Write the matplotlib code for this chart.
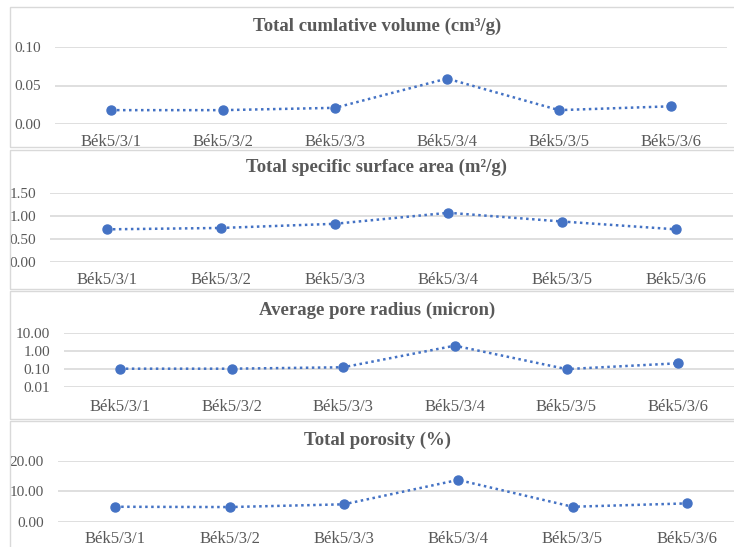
import matplotlib
matplotlib.use("Agg")
import matplotlib.pyplot as plt
from matplotlib.patches import Rectangle
from matplotlib.ticker import FixedLocator, FixedFormatter, NullLocator

categories = ["Bék5/3/1", "Bék5/3/2", "Bék5/3/3", "Bék5/3/4", "Bék5/3/5", "Bék5/3/6"]
volume = [0.018, 0.018, 0.021, 0.059, 0.018, 0.023]
surface = [0.71, 0.74, 0.83, 1.07, 0.88, 0.71]
radius = [0.10, 0.10, 0.12, 1.9, 0.095, 0.20]
porosity = [4.9, 4.8, 5.7, 13.7, 4.9, 6.0]

titles = ["Total cumlative volume (cm³/g)", "Total specific surface area (m²/g)",
          "Average pore radius (micron)", "Total porosity (%)"]
yticks_list = [[0.0, 0.05, 0.10], [0.0, 0.5, 1.0, 1.5], [0.01, 0.1, 1.0, 10.0], [0.0, 10.0, 20.0]]

W, H = 734, 547
fig = plt.figure(figsize=(W / 100, H / 100), dpi=100)
fig.patch.set_facecolor("white")

TXT = "#595959"
GRID = "#d9d9d9"
BLUE = "#4472C4"
SERIF = ["Liberation Serif", "DejaVu Serif"]

# panel borders (pixel coords: x0, ytop, x1, ybot)
panels = [(10, 7, 745, 147), (10, 149.5, 745, 289), (10, 291, 745, 419), (10, 421, 745, 560)]
for (x0, yt, x1, yb) in panels:
    fig.patches.append(Rectangle((x0 / W, 1 - yb / H), (x1 - x0) / W, (yb - yt) / H,
                                 transform=fig.transFigure, fill=False,
                                 edgecolor=GRID, lw=1.0))

# axes rectangles (x0, x1, ytop, ybot) in pixels
rects = [(55, 727, 47, 124), (50, 733, 193, 262), (64, 734, 332.7, 386.7), (58, 744, 460.7, 521.7)]
title_y = [26, 167, 310, 440]
xpads = [7, 7, 9, 7]
ylims = [(0, 0.10), (0, 1.5), (0.01, 10), (0, 20)]
data = [volume, surface, radius, porosity]

for i in range(4):
    x0, x1, yt, yb = rects[i]
    ax = fig.add_axes([x0 / W, 1 - yb / H, (x1 - x0) / W, (yb - yt) / H])
    ax.set_facecolor("none")
    xs = list(range(len(categories)))
    ax.plot(xs, data[i], linestyle=(0, (1, 1.4)), color=BLUE, lw=1.8,
            marker="o", markersize=6.5, markerfacecolor=BLUE, markeredgecolor=BLUE)
    ax.set_xlim(-0.5, len(categories) - 0.5)
    if i == 2:
        ax.set_yscale("log")
    ax.set_ylim(*ylims[i])
    ax.yaxis.set_major_locator(FixedLocator(yticks_list[i]))
    ax.yaxis.set_major_formatter(FixedFormatter([f"{v:.2f}" for v in yticks_list[i]]))
    ax.yaxis.set_minor_locator(NullLocator())
    ax.set_xticks(xs)
    ax.set_xticklabels(categories)
    for s in ax.spines.values():
        s.set_visible(False)
    ax.grid(axis="y", color=GRID, lw=1.2)
    ax.set_axisbelow(True)
    ax.tick_params(axis="both", length=0, colors=TXT)
    ax.tick_params(axis="y", pad=10, labelsize=11)
    ax.tick_params(axis="x", pad=xpads[i], labelsize=12)
    for lab in ax.get_xticklabels() + ax.get_yticklabels():
        lab.set_family(SERIF)
        lab.set_color(TXT)
    fig.text(377 / W, 1 - title_y[i] / H, titles[i], ha="center", va="center",
             fontsize=13.5, fontweight="bold", color=TXT, family=SERIF)

fig.savefig("out.png", dpi=100)
